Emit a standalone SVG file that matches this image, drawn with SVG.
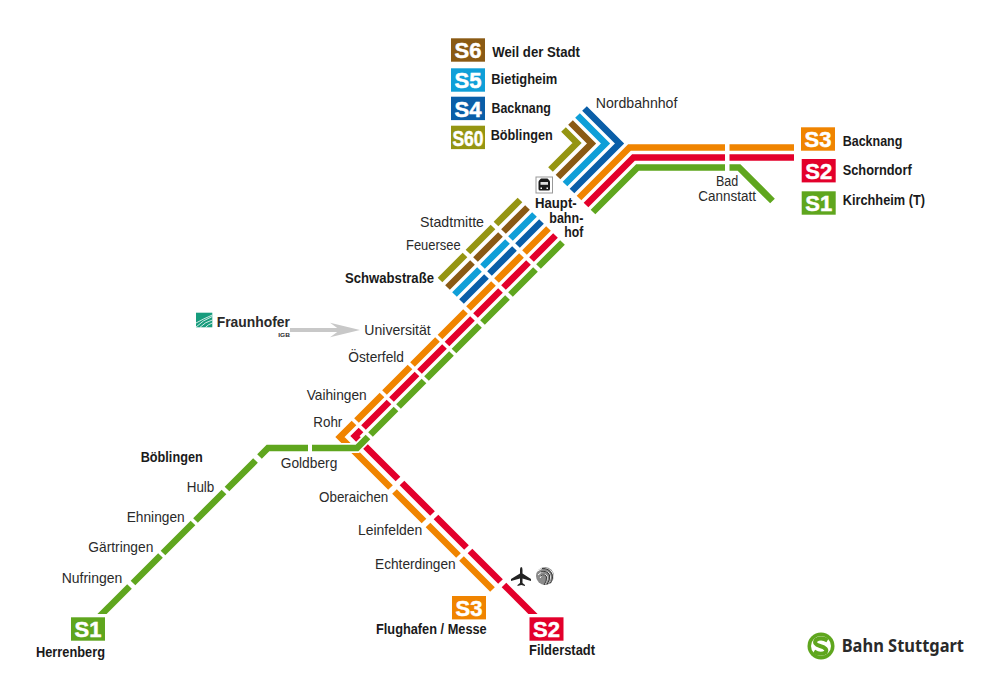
<svg xmlns="http://www.w3.org/2000/svg" width="1000" height="696" viewBox="0 0 1000 696">
<style>
text{font-family:"Liberation Sans",Arial,sans-serif;fill:#2a2a2a}
.r{font-size:15px}
.c{font-size:14px}
.b{font-size:14.5px;font-weight:700;fill:#1a1a1a}
.t{font-size:22px;font-weight:700;fill:#fff;text-anchor:middle;stroke:#fff;stroke-width:.5}
.l{fill:none;stroke-width:6.6;stroke-linejoin:miter;stroke-miterlimit:4}
.s60{stroke:#959512}.s6{stroke:#8a5a14}.s5{stroke:#0f9fd8}.s4{stroke:#0a5ea8}.s3{stroke:#f08400}.s2{stroke:#e3002b}.s1{stroke:#5fa61e}
</style>
<g id="connectors">
<g class="l s60"><path d="M550.5 169.5L577 143L563.5 129.5M520 200L496 224M493 227L468 252M465 255L440 280"/></g>
<g class="l s6"><path d="M558 177L591.5 143.5L570.5 122.5M527.5 207.5L503.5 231.5M500.5 234.5L475.5 259.5M472.5 262.5L447.5 287.5"/></g>
<g class="l s5"><path d="M565 184L605.5 143.5L577.5 115.5M534.5 214.5L510.5 238.5M507.5 241.5L482.5 266.5M479.5 269.5L454.5 294.5"/></g>
<g class="l s4"><path d="M572 191L619.5 143.5L584.5 108.5M541.5 221.5L517.5 245.5M514.5 248.5L489.5 273.5M486.5 276.5L461.5 301.5"/></g>
<g class="l s3"><path d="M579 198L629.5 147.5L725 147.5M729.5 147.5L794 147.5M548.5 228.5L524.5 252.5M521.5 255.5L496.5 280.5M493.5 283.5L468.5 308.5M465.5 311.5L440 337M437.5 339.5L412.5 364.5M410 367L384.5 392.5M382 395L356.5 420.5M354 423L340 437L390.5 487.5M394.5 491.5L424 521M428 525L458.5 555.5M461.5 558.5L492.5 589.5"/></g>
<g class="l s2"><path d="M586 205L633.5 157.5L725 157.5M729.5 157.5L794 157.5M555.5 235.5L531.5 259.5M528.5 262.5L503.5 287.5M500.5 290.5L475.5 315.5M472.5 318.5L447 344M444.5 346.5L419.5 371.5M417 374L391.5 399.5M389 402L363.5 427.5M361 430L355 436L398 479M402 483L432.5 513.5M436 517L466.5 547.5M470 551L500.5 581.5"/></g>
<polygon points="501.7,587.3 506.3,582.7 537.6,614 528.4,614" fill="#e3002b"/>
<path d="M334 448H357L368 437" fill="none" stroke="#fff" stroke-width="10"/>
<g class="l s1"><path d="M593 212L637.5 167.5L725 167.5M729.5 167.5L739 167.5L772.5 201M562.5 242.5L538.5 266.5M535.5 269.5L510.5 294.5M507.5 297.5L482.5 322.5M479.5 325.5L454 351M451.5 353.5L426.5 378.5M424 381L398.5 406.5M396 409L370.5 434.5M368 437L357 448L312 448M308 448L268 448L259.5 456.5M255.5 460.5L227 489M224 492L195.5 520.5M193 523L163 553M160.5 555.5L133 583"/></g>
<polygon points="127.2,584.2 131.8,588.8 106.6,614 97.4,614" fill="#5fa61e"/>
<path d="M290 330H342" stroke="#c8c8c8" stroke-width="4" fill="none"/>
<polygon points="330,322.7 360,330 330,337.3 340,330" fill="#c8c8c8"/>
</g>
<g id="badge-s6"><rect x="451" y="38.3" width="34" height="23.4" fill="#8a5a14"/><text class="t" x="468" y="58">S6</text><text class="b" x="492.3" y="57.3" textLength="87.7" lengthAdjust="spacingAndGlyphs">Weil der Stadt</text></g>
<g id="badge-s5"><rect x="451" y="68.3" width="34" height="23.4" fill="#0f9fd8"/><text class="t" x="468" y="88">S5</text><text class="b" x="491.3" y="84" textLength="66" lengthAdjust="spacingAndGlyphs">Bietigheim</text></g>
<g id="badge-s4"><rect x="451" y="96.7" width="34" height="23.4" fill="#0a5ea8"/><text class="t" x="468" y="116.5">S4</text><text class="b" x="491.5" y="112.7" textLength="59.3" lengthAdjust="spacingAndGlyphs">Backnang</text></g>
<g id="badge-s60"><rect x="451" y="125.7" width="34" height="23.4" fill="#959512"/><text class="t" x="468" y="145.5" textLength="31" lengthAdjust="spacingAndGlyphs">S60</text><text class="b" x="490.7" y="140" textLength="62" lengthAdjust="spacingAndGlyphs">Böblingen</text></g>
<g id="badge-s3"><rect x="801" y="127.3" width="34" height="23.4" fill="#f08400"/><text class="t" x="818" y="147">S3</text><text class="b" x="842.7" y="145.7" textLength="59.7" lengthAdjust="spacingAndGlyphs">Backnang</text></g>
<g id="badge-s2"><rect x="801.7" y="159" width="34" height="23.4" fill="#e3002b"/><text class="t" x="818.7" y="178.7">S2</text><text class="b" x="842.7" y="174.7" textLength="69" lengthAdjust="spacingAndGlyphs">Schorndorf</text></g>
<g id="badge-s1"><rect x="801.7" y="191.3" width="34" height="23.4" fill="#5fa61e"/><text class="t" x="818.7" y="211">S1</text><text class="b" x="842.7" y="205" textLength="82.3" lengthAdjust="spacingAndGlyphs">Kirchheim (T)</text></g>
<g id="terminus-s3"><rect x="452" y="596" width="34" height="23.4" fill="#f08400"/><text class="t" x="469" y="615.7">S3</text><text class="b" x="376" y="634" textLength="110.7" lengthAdjust="spacingAndGlyphs">Flughafen / Messe</text></g>
<g id="terminus-s2"><rect x="529.5" y="617.3" width="34" height="23.4" fill="#e3002b"/><text class="t" x="546.5" y="637">S2</text><text class="b" x="529" y="655" textLength="66" lengthAdjust="spacingAndGlyphs">Filderstadt</text></g>
<g id="terminus-s1"><rect x="71" y="617.3" width="34" height="23.4" fill="#5fa61e"/><text class="t" x="88" y="637">S1</text><text class="b" x="36" y="656.5" textLength="69" lengthAdjust="spacingAndGlyphs">Herrenberg</text></g>
<g id="station-nordbahnhof"><text class="r" x="595.7" y="107.7" textLength="81.7" lengthAdjust="spacingAndGlyphs">Nordbahnhof</text></g>
<g id="station-hauptbahnhof">
<rect x="536" y="177" width="16.5" height="16" fill="#fff" stroke="#999" stroke-width="1"/>
<path d="M541 178.5h6.5l1.500 1.500q1 1 1 2v7q0 1.500-1.500 1.500h-8.500q-1.500 0-1.500-1.500v-7q0-1 1-2z" fill="#1a1a1a"/>
<rect x="540.5" y="182" width="7.5" height="2.800" fill="#ddd"/><rect x="540.5" y="187.5" width="1.5" height="1.5" fill="#fff"/><rect x="546.5" y="187.5" width="1.5" height="1.5" fill="#fff"/>
<text class="b" x="535" y="208.3" textLength="41.7" lengthAdjust="spacingAndGlyphs">Haupt-</text><text class="b" x="549.3" y="222.7" textLength="34" lengthAdjust="spacingAndGlyphs">bahn-</text><text class="b" x="564.3" y="237.3" textLength="19" lengthAdjust="spacingAndGlyphs">hof</text></g>
<g id="station-stadtmitte"><text class="r" x="420" y="227.3" textLength="64" lengthAdjust="spacingAndGlyphs">Stadtmitte</text></g>
<g id="station-feuersee"><text class="r" x="406" y="250" textLength="54.7" lengthAdjust="spacingAndGlyphs">Feuersee</text></g>
<g id="station-schwabstrasse"><text class="b" x="345" y="283.3" textLength="89" lengthAdjust="spacingAndGlyphs">Schwabstraße</text></g>
<g id="station-universitaet"><text class="r" x="364.3" y="335" textLength="66.4" lengthAdjust="spacingAndGlyphs">Universität</text></g>
<g id="station-oesterfeld"><text class="r" x="348.3" y="362.3" textLength="55.7" lengthAdjust="spacingAndGlyphs">Österfeld</text></g>
<g id="station-vaihingen"><text class="r" x="306.7" y="400" textLength="60" lengthAdjust="spacingAndGlyphs">Vaihingen</text></g>
<g id="station-rohr"><text class="r" x="313.3" y="426.7" textLength="29" lengthAdjust="spacingAndGlyphs">Rohr</text></g>
<g id="station-goldberg"><text class="r" x="280.7" y="468.3" textLength="56.6" lengthAdjust="spacingAndGlyphs">Goldberg</text></g>
<g id="station-oberaichen"><text class="r" x="319" y="501.7" textLength="69.3" lengthAdjust="spacingAndGlyphs">Oberaichen</text></g>
<g id="station-leinfelden"><text class="r" x="358" y="535" textLength="64.3" lengthAdjust="spacingAndGlyphs">Leinfelden</text></g>
<g id="station-echterdingen"><text class="r" x="375" y="569.3" textLength="80.7" lengthAdjust="spacingAndGlyphs">Echterdingen</text></g>
<g id="station-boeblingen"><text class="b" x="140.7" y="461.7" textLength="62" lengthAdjust="spacingAndGlyphs">Böblingen</text></g>
<g id="station-hulb"><text class="r" x="186.7" y="492.3" textLength="27.6" lengthAdjust="spacingAndGlyphs">Hulb</text></g>
<g id="station-ehningen"><text class="r" x="126.7" y="521.7" textLength="58" lengthAdjust="spacingAndGlyphs">Ehningen</text></g>
<g id="station-gaertringen"><text class="r" x="88.3" y="552.3" textLength="65" lengthAdjust="spacingAndGlyphs">Gärtringen</text></g>
<g id="station-nufringen"><text class="r" x="61.7" y="583.3" textLength="60.6" lengthAdjust="spacingAndGlyphs">Nufringen</text></g>
<g id="station-bad-cannstatt"><text class="c" x="716" y="186" textLength="22.3" lengthAdjust="spacingAndGlyphs">Bad</text><text class="c" x="698.3" y="201" textLength="57.7" lengthAdjust="spacingAndGlyphs">Cannstatt</text></g>
<g id="fraunhofer">
<rect x="196" y="312.7" width="16.3" height="14.6" fill="#179c7d"/>
<path d="M196 327Q203 320 212.3 316.5M196 323Q203 319 212.3 315M200 327.3Q205 322 212.3 320M205.5 327.3Q208 324.5 212.3 323" fill="none" stroke="#fff" stroke-width=".8"/>
<text x="216.7" y="327.3" font-size="15" font-weight="700" fill="#1a1a1a" textLength="73.3" lengthAdjust="spacingAndGlyphs">Fraunhofer</text>
<text x="278.3" y="337.3" font-size="6" font-weight="700" textLength="11.7" lengthAdjust="spacingAndGlyphs">IGB</text></g>
<g id="airport">
<path d="M521.3 567Q522.5 567 522.5 570V573.5L531 579V581L522.5 578.5V583L525 585V586L521.3 585L517.5 586V585L520 583V578.5L511 581V579L520 573.5V570Q520 567 521.3 567z" fill="#222"/>
<circle cx="545" cy="576" r="9" fill="#8a8a8a"/>
<g fill="none" stroke="#fff" stroke-width="1"><path d="M537.5 571Q545 565 552 572Q555 578 551 582"/><path d="M538 575Q544 569 549 573Q552 578 548 583"/><path d="M540 578Q544 572 547 576Q548 580 545 584"/></g>
<g fill="none" stroke="#222" stroke-width=".9"><path d="M542 568.5Q549 568 552 574Q553.5 580 550 583.5"/><path d="M541 572Q547 570 549.5 575Q550.5 580 547 584.5"/><path d="M541 576Q545 573 546.5 577Q547 581 544 585"/></g></g>
<g id="logo">
<circle cx="821" cy="646" r="13.5" fill="#5fa61e"/>
<circle cx="821" cy="646" r="10" fill="#fff"/>
<path d="M827.5 640.5Q821 636.5 816 640Q813 644 820 646Q828.5 648.5 825.5 652.5Q820 655.5 814 651.5" fill="none" stroke="#5fa61e" stroke-width="4"/>
<text x="841.7" y="651.7" font-size="17.5" font-weight="700" fill="#1a1a1a" style="font-family:'Noto Sans',sans-serif" textLength="122.3" lengthAdjust="spacingAndGlyphs">Bahn Stuttgart</text></g>
</svg>
